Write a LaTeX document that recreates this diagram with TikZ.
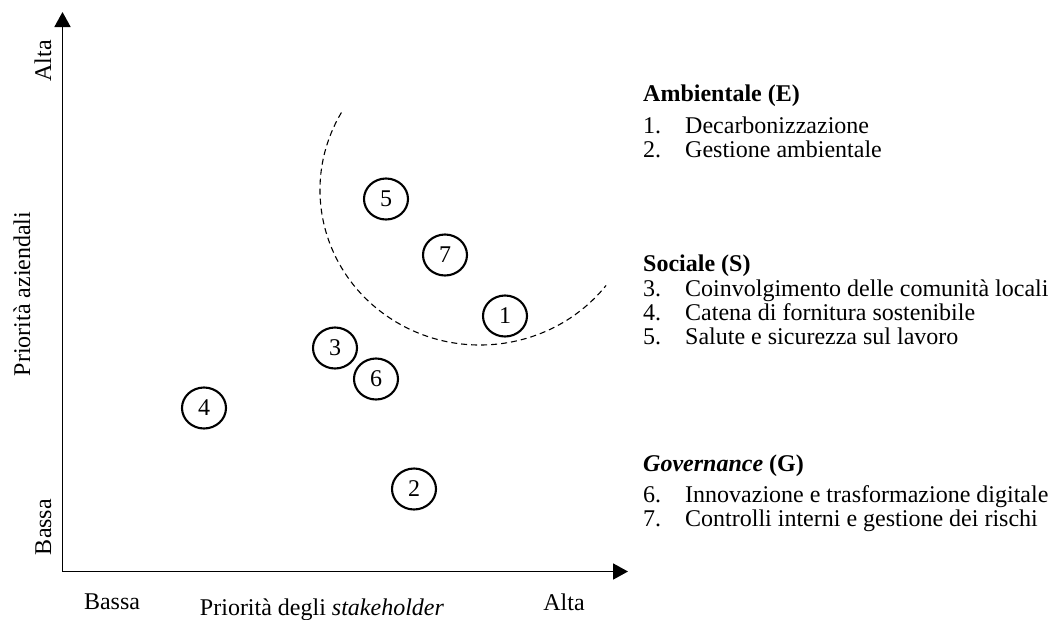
\documentclass[tikz,border=0pt]{standalone}
\usepackage{fontspec}
\setmainfont{Liberation Serif}
\usetikzlibrary{arrows.meta,shapes.geometric}
\begin{document}
\begin{tikzpicture}[x=1pt,y=-1pt,
  every node/.style={inner sep=0pt, font=\fontsize{24}{25}\selectfont},
  axis/.style={line width=1.8pt, -{Triangle[length=15pt,width=16pt]}},
  topic/.style={draw, ellipse, line width=2.1pt, minimum width=44pt, minimum height=41pt},
  item/.style={anchor=base west},
  head/.style={anchor=base west, font=\fontsize{24}{25}\selectfont\bfseries},
  vlabel/.style={rotate=90, anchor=base},
  hlabel/.style={anchor=base},
  zone/.style={line width=1.1pt, dash pattern=on 6pt off 4pt}]

% canvas
\fill[white] (0,0) rectangle (1050,619);
\useasboundingbox (0,0) rectangle (1050,619);

% axes
\coordinate (origin) at (62.5,571.5);
\coordinate (ytip) at (62.5,12);
\coordinate (xtip) at (628,571.5);
\draw[axis] (origin) -- (ytip);
\draw[axis] (origin) -- (xtip);

% axis labels
\node[vlabel] (yhigh) at (51,61) {Alta};
\node[vlabel] (ylow) at (51,527) {Bassa};
\node[vlabel] (ytitle) at (30,294) {Priorità aziendali};
\node[hlabel] (xlow) at (112,609) {Bassa};
\node[hlabel] (xhigh) at (564,610) {Alta};
\node[hlabel] (xtitle) at (322,615) {Priorità degli \textit{stakeholder}};

% material topics
\node[topic] (t1) at (505,316) {1};
\node[topic] (t2) at (414,489) {2};
\node[topic] (t3) at (335,348) {3};
\node[topic] (t4) at (204,408) {4};
\node[topic] (t5) at (386,199) {5};
\node[topic] (t6) at (376,379) {6};
\node[topic] (t7) at (445,255) {7};

% high-priority zone
\coordinate (zc) at (480,190);
\draw[zone] (zc) ++(210:160 and 155) arc[start angle=210, end angle=38, x radius=160, y radius=155];

% legend: environmental
\node[head] (hE) at (643,101) {Ambientale (E)};
\node[item] (n1) at (643,133) {1.};
\node[item] (l1) at (685,133) {Decarbonizzazione};
\node[item] (n2) at (643,157) {2.};
\node[item] (l2) at (685,157) {Gestione ambientale};

% legend: social
\node[head] (hS) at (643,271) {Sociale (S)};
\node[item] (n3) at (643,296) {3.};
\node[item] (l3) at (685,296) {Coinvolgimento delle comunità locali};
\node[item] (n4) at (643,320) {4.};
\node[item] (l4) at (685,320) {Catena di fornitura sostenibile};
\node[item] (n5) at (643,344) {5.};
\node[item] (l5) at (685,344) {Salute e sicurezza sul lavoro};

% legend: governance
\node[head] (hG) at (643,471) {\textit{Governance} (G)};
\node[item] (n6) at (643,502) {6.};
\node[item] (l6) at (685,502) {Innovazione e trasformazione digitale};
\node[item] (n7) at (643,526) {7.};
\node[item] (l7) at (685,526) {Controlli interni e gestione dei rischi};

\end{tikzpicture}
\end{document}
